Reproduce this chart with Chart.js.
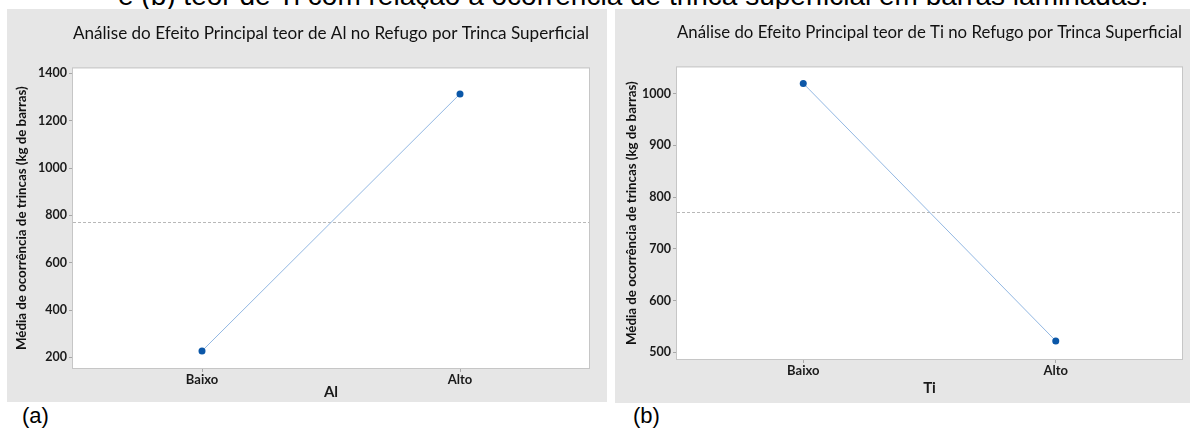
<!DOCTYPE html>
<html lang="pt">
<head>
<meta charset="utf-8">
<script src="https://cdn.jsdelivr.net/npm/chart.js@4"></script>
<style>
    body {
        margin: 0;
        width: 1190px;
        height: 434px;
        background: #fff;
        position: relative;
        overflow: hidden;
        font-family: "Liberation Sans", Arial, sans-serif;
    }
    .legenda-topo {
        position: absolute;
        left: 118px;
        top: -18px;
        font-size: 28px;
        line-height: 28px;
        white-space: nowrap;
        color: #000;
    }
    .painel { position: absolute; background: #e6e6e6; }
    #painelA { left: 7px; top: 9px; width: 600px; height: 393px; }
    #painelB { left: 615px; top: 9px; width: 575px; height: 394px; }
    .letra { position: absolute; top: 403px; font-size: 22px; line-height: 26px; color: #000; }
</style>
</head>
<body>

<div class="legenda-topo">e (b) teor de Ti com relação à ocorrência de trinca superficial em barras laminadas.</div>

<div class="painel" id="painelA"><canvas id="chartAl" width="600" height="393"></canvas></div>
<div class="painel" id="painelB"><canvas id="chartTi" width="575" height="394"></canvas></div>

<div class="letra" style="left:22px">(a)</div>
<div class="letra" style="left:633px">(b)</div>

<script>
/* =============================
   DADOS
============================= */

const categorias = ["Baixo", "Alto"];

const mediasAl = [227, 1313];
const mediasTi = [1020, 522];

// média geral (linha tracejada)
const mediaGeral = 772;

const ticksAl = [200, 400, 600, 800, 1000, 1200, 1400];
const ticksTi = [500, 600, 700, 800, 900, 1000];

const tituloY = "Média de ocorrência de trincas (kg de barras)";

/* =============================
   PLUGIN – FUNDO, MOLDURA E MÉDIA
============================= */

const quadroPlugin = {
    id: "quadro",
    beforeDraw(chart) {
        const a = chart.chartArea;
        const ctx = chart.ctx;
        ctx.save();
        ctx.fillStyle = "#ffffff";
        ctx.fillRect(a.left, a.top, a.right - a.left, a.bottom - a.top);
        ctx.restore();
    },
    beforeDatasetsDraw(chart, args, opts) {
        const a = chart.chartArea;
        const ctx = chart.ctx;
        const y = Math.round(chart.scales.y.getPixelForValue(opts.media)) + 0.5;

        ctx.save();
        ctx.strokeStyle = "#b8b8b8";
        ctx.lineWidth = 1;
        ctx.setLineDash([3, 2]);
        ctx.beginPath();
        ctx.moveTo(a.left, y);
        ctx.lineTo(a.right, y);
        ctx.stroke();

        ctx.setLineDash([]);
        ctx.strokeStyle = "#c6c6c6";
        ctx.strokeRect(a.left - 0.5, a.top - 0.5, a.right - a.left + 1, a.bottom - a.top + 1);
        ctx.restore();
    }
};

/* =============================
   GRÁFICO DE EFEITO PRINCIPAL
============================= */

function drawMainEffect(id, cfg) {
    new Chart(document.getElementById(id), {
        type: "line",
        data: {
            labels: categorias,
            datasets: [{
                data: cfg.valores,
                borderColor: "#93b8e3",
                borderWidth: 1,
                pointRadius: 3.5,
                pointBackgroundColor: "#0b57a8",
                pointBorderWidth: 0,
                tension: 0
            }]
        },
        plugins: [quadroPlugin],
        options: {
            responsive: false,
            animation: false,
            devicePixelRatio: 1,
            layout: { padding: { left: 0, right: cfg.padDir, top: 0, bottom: 0 } },
            plugins: {
                legend: { display: false },
                tooltip: { enabled: false },
                quadro: { media: mediaGeral },
                title: {
                    display: true,
                    fullSize: false,
                    text: cfg.titulo,
                    color: "#111",
                    font: { family: "Lato", size: 17.8, weight: "normal", lineHeight: 1.2 },
                    padding: { top: cfg.padTitulo, bottom: cfg.topoArea - cfg.padTitulo - 21 }
                }
            },
            scales: {
                x: {
                    offset: true,
                    afterFit: axis => { axis.height = cfg.alturaX; },
                    grid: { drawOnChartArea: false, offset: false, tickLength: 4, color: "#a8a8a8" },
                    border: { display: false },
                    ticks: {
                        padding: 0,
                        color: "#1a1a1a",
                        font: { family: "Lato", size: 13, weight: "bold" }
                    },
                    title: {
                        display: true,
                        text: cfg.eixoX,
                        color: "#1a1a1a",
                        font: { family: "Lato", size: 15, weight: "bold" },
                        padding: { top: 0, bottom: cfg.padTituloX }
                    }
                },
                y: {
                    min: cfg.min,
                    max: cfg.max,
                    afterBuildTicks: axis => { axis.ticks = cfg.ticks.map(v => ({ value: v })); },
                    afterFit: axis => { axis.width = cfg.larguraY; },
                    grid: { drawOnChartArea: false, tickLength: 4, color: "#a8a8a8" },
                    border: { display: false },
                    ticks: {
                        padding: 2,
                        color: "#1a1a1a",
                        font: { family: "Lato", size: 12.5, weight: "bold" },
                        callback: v => String(v)
                    },
                    title: {
                        display: true,
                        text: tituloY,
                        color: "#111",
                        font: { family: "Lato", size: 13.3, weight: "bold" },
                        padding: { top: cfg.padTituloY, bottom: 0 }
                    }
                }
            }
        }
    });
}

drawMainEffect("chartAl", {
    valores: mediasAl,
    ticks: ticksAl,
    min: 155,
    max: 1421,
    titulo: "Análise do Efeito Principal teor de Al no Refugo por Trinca Superficial",
    eixoX: "Al",
    padDir: 18,
    padTitulo: 14,
    topoArea: 59,
    alturaX: 34,
    padTituloX: 1,
    larguraY: 66,
    padTituloY: 7
});

drawMainEffect("chartTi", {
    valores: mediasTi,
    ticks: ticksTi,
    min: 487,
    max: 1051,
    titulo: "Análise do Efeito Principal teor de Ti no Refugo por Trinca Superficial",
    eixoX: "Ti",
    padDir: 8,
    padTitulo: 13,
    topoArea: 58,
    alturaX: 44,
    padTituloX: 6,
    larguraY: 62,
    padTituloY: 9
});
</script>
</body>
</html>
